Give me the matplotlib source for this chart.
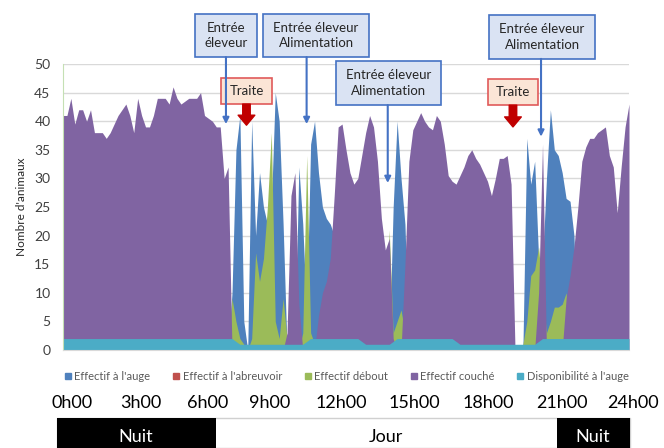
import numpy as np
import matplotlib
matplotlib.use('Agg')
import matplotlib.pyplot as plt
from matplotlib.patches import Rectangle
from matplotlib.lines import Line2D

plt.rcParams['font.family'] = ['Lato', 'DejaVu Sans']

# pas de 10 minutes sur 24 h
heures = np.linspace(0, 24, 145)

# une ligne = 2 heures (12 pas de 10 min)
auge = [
    0, 0, 0, 0, 0, 0, 0, 0, 0, 0, 0, 0,
    0, 0, 0, 0, 0, 0, 0, 0, 0, 0, 0, 0,
    0, 0, 0, 0, 0, 0, 0, 0, 0, 0, 0, 0,
    0, 0, 0, 0, 0, 0, 0, 10, 35, 41, 5, 0,
    40, 20, 31, 25, 22, 25, 45, 40, 22, 0, 0, 0,
    32, 22, 6, 36, 40, 31, 25, 23, 22, 20, 0, 0,
    0, 0, 0, 0, 0, 0, 0, 0, 0, 0, 0, 0,
    25, 40, 30, 22, 0, 0, 0, 0, 0, 0, 0, 0,
    0, 0, 0, 0, 0, 0, 0, 0, 0, 0, 0, 0,
    0, 0, 0, 0, 0, 0, 0, 0, 0, 0, 37, 29,
    33, 16, 15, 30, 42, 35, 34, 31, 26.5, 26, 20, 0,
    0, 0, 0, 0, 0, 0, 0, 0, 0, 0, 0, 0,
    0]

abreuvoir = [
    0, 0, 0, 0, 0, 0, 0, 0, 0, 0, 0, 0,
    0, 0, 0, 0, 0, 0, 0, 0, 0, 0, 0, 0,
    0, 0, 0, 0, 0, 0, 0, 0, 0, 0, 0, 0,
    0, 0, 0, 0, 0, 0, 0, 0, 0, 0, 0, 0,
    0, 0, 0, 0, 0, 0, 0, 0, 0, 0, 0, 0,
    0, 0, 0, 0, 0, 0, 0, 0, 0, 0, 0, 0,
    0, 0, 0, 0, 0, 0, 0, 0, 0, 0, 0, 0,
    0, 0, 0, 0, 0, 0, 0, 0, 0, 0, 0, 0,
    0, 0, 0, 0, 0, 0, 0, 0, 0, 0, 0, 0,
    0, 0, 0, 0, 0, 0, 0, 0, 0, 0, 0, 0,
    0, 0, 0, 0, 0, 0, 0, 0, 0, 0, 0, 0,
    0, 0, 0, 0, 0, 0, 0, 0, 0, 0, 0, 0,
    0]

debout = [
    0, 0, 0, 0, 0, 0, 0, 0, 0, 0, 0, 0,
    0, 0, 0, 0, 0, 0, 0, 0, 0, 0, 0, 0,
    0, 0, 0, 0, 0, 0, 0, 0, 0, 0, 0, 0,
    0, 0, 0, 0, 0, 0, 0, 9, 5, 2, 1, 0,
    2, 17, 12, 16, 25, 38, 5, 2, 9, 2, 0, 0,
    0, 3, 34, 3, 1, 0, 0, 0, 0, 0, 0, 0,
    0, 0, 0, 0, 0, 0, 0, 0, 0, 0, 0, 21,
    3, 5, 7, 3, 0, 0, 0, 0, 0, 0, 0, 0,
    0, 0, 0, 0, 0, 0, 0, 0, 0, 0, 0, 0,
    0, 0, 0, 0, 0, 0, 0, 0, 0, 1, 5, 13,
    14, 18, 10, 3, 5, 7.5, 7.5, 8, 10, 0, 0, 0,
    0, 0, 0, 0, 0, 0, 0, 0, 0, 0, 0, 0,
    0]

couche = [
    41, 41, 44, 39.5, 42, 42, 40, 42, 38, 38, 38, 37,
    38, 39.5, 41, 42, 43, 41, 38, 44, 41, 39, 39, 41,
    44, 44, 44, 43, 46, 44, 43, 43.5, 44, 44, 44, 45,
    41, 40.5, 40, 39, 39, 30, 32, 0, 0, 0, 0, 0,
    0, 0, 0, 0, 0, 0, 0, 0, 0, 3, 27, 31,
    8, 0, 0, 0, 0, 6, 10, 12, 16, 27, 39, 39.5,
    35, 31, 29, 30, 34, 38, 41, 39, 33, 23, 17.5, 19.5,
    2, 0, 0, 15, 33, 38.5, 40, 41.5, 40, 39, 38.5, 41,
    40, 36, 30.5, 29.5, 29, 30.5, 32, 34, 35, 33.5, 32.5, 31,
    29.5, 27, 30, 33.5, 33.5, 34, 29, 0, 0, 0, 0, 0,
    0, 10, 36, 0, 0, 0, 0, 0, 9, 13, 18, 25,
    33, 35.5, 37, 37, 38, 38.5, 39, 34, 32, 24, 32, 39,
    43]

dispo = [
    2, 2, 2, 2, 2, 2, 2, 2, 2, 2, 2, 2,
    2, 2, 2, 2, 2, 2, 2, 2, 2, 2, 2, 2,
    2, 2, 2, 2, 2, 2, 2, 2, 2, 2, 2, 2,
    2, 2, 2, 2, 2, 2, 2, 2, 1.5, 1, 1, 1,
    1, 1, 1, 1, 1, 1, 1, 1, 1, 1, 1, 1,
    1, 1, 1.5, 2, 2, 2, 2, 2, 2, 2, 2, 2,
    2, 2, 2, 2, 1.5, 1, 1, 1, 1, 1, 1, 1,
    1.5, 2, 2, 2, 2, 2, 2, 2, 2, 2, 2, 2,
    2, 2, 2, 2, 1.5, 1, 1, 1, 1, 1, 1, 1,
    1, 1, 1, 1, 1, 1, 1, 1, 1, 1, 1, 1,
    1, 1.5, 2, 2, 2, 2, 2, 2, 2, 2, 2, 2,
    2, 2, 2, 2, 2, 2, 2, 2, 2, 2, 2, 2,
    2]

series = ["Effectif à l'auge", "Effectif à l'abreuvoir", "Effectif débout",
          "Effectif couché", "Disponibilité à l'auge"]
couleurs = ['#4f81bd', '#c0504d', '#9bbb59', '#8064a2', '#4bacc6']

heures_lab = ['0h00', '3h00', '6h00', '9h00', '12h00', '15h00', '18h00', '21h00', '24h00']

fig = plt.figure(figsize=(6.64, 4.48), dpi=100)
ax = fig.add_axes([63 / 664, 1 - 350 / 448, 566 / 664, 286 / 448])

for vals, col in zip([auge, abreuvoir, debout, couche, dispo], couleurs):
    ax.fill_between(heures, 0, vals, color=col, lw=0)

ax.set_xlim(0, 24)
ax.set_ylim(0, 50)
ax.set_yticks(range(0, 55, 5))
ax.set_xticks([])
ax.yaxis.grid(True, color='#d9d9d9', lw=1)
ax.set_axisbelow(True)
for s in ['top', 'right']:
    ax.spines[s].set_visible(False)
ax.spines['left'].set_color('#c5e0b4')
ax.spines['bottom'].set_color('#d9d9d9')
ax.tick_params(axis='y', length=0, pad=9, labelsize=10, labelcolor='#404040')

fig.text(22 / 664, 1 - 207 / 448, "Nombre d'animaux", rotation=90,
         ha='center', va='center', fontsize=8.5, color='#262626')

# annotations (coordonnées en heures / effectif)
def boite(x0, x1, y0, y1, txt, fc, ec):
    ax.add_patch(Rectangle((x0, y0), x1 - x0, y1 - y0, facecolor=fc, edgecolor=ec,
                           lw=1.2, clip_on=False, zorder=5))
    ax.text((x0 + x1) / 2, (y0 + y1) / 2, txt, ha='center', va='center',
            fontsize=9.5, color='#262626', linespacing=1.35, zorder=6, clip_on=False)

def fleche_bleue(x, y0, y1):
    ax.annotate('', xy=(x, y1), xytext=(x, y0), annotation_clip=False,
                arrowprops=dict(arrowstyle='-|>', color='#4472c4', lw=1.5,
                                mutation_scale=9, shrinkA=0, shrinkB=0), zorder=6)

def fleche_rouge(x, y0, y1):
    ax.annotate('', xy=(x, y1), xytext=(x, y0), annotation_clip=False,
                arrowprops=dict(arrowstyle='simple,head_length=0.6,head_width=1.0,tail_width=0.45',
                                color='#c00000', mutation_scale=12, shrinkA=0, shrinkB=0), zorder=6)

bleu_fc, bleu_ec = '#dae3f3', '#4472c4'
rose_fc, rose_ec = '#fbe5d6', '#e05a5a'

boite(5.60, 8.23, 51.2, 58.7, 'Entrée\néleveur', bleu_fc, bleu_ec)
fleche_bleue(6.91, 51.2, 39.5)
boite(8.48, 12.98, 51.2, 58.7, 'Entrée éleveur\nAlimentation', bleu_fc, bleu_ec)
fleche_bleue(10.33, 51.2, 39.5)
boite(11.58, 16.03, 42.8, 50.5, 'Entrée éleveur\nAlimentation', bleu_fc, bleu_ec)
fleche_bleue(13.77, 42.8, 29.2)
boite(18.07, 22.56, 50.9, 58.6, 'Entrée éleveur\nAlimentation', bleu_fc, bleu_ec)
fleche_bleue(20.27, 50.9, 37.3)

boite(6.70, 8.86, 43.0, 47.6, 'Traite', rose_fc, rose_ec)
fleche_rouge(7.78, 43.0, 39.3)
boite(18.02, 20.14, 42.8, 47.4, 'Traite', rose_fc, rose_ec)
fleche_rouge(19.08, 42.8, 39.0)

# légende
poignees = [Line2D([], [], marker='s', ls='', color=c, markersize=5) for c in couleurs]
fig.legend(poignees, series, loc='center', bbox_to_anchor=(0.522, 1 - 376 / 448), ncol=5,
           frameon=False, fontsize=8, handlelength=0.6, handletextpad=0.3,
           columnspacing=2.0, labelcolor='#595959')

# heures
for lab, px in zip(heures_lab, [72, 141, 208, 270, 341, 414, 488, 562, 633]):
    fig.text(px / 664, 1 - 403 / 448, lab, ha='center', va='center', fontsize=13, color='black')

# bandeau nuit / jour
fig.patches.append(Rectangle((57 / 664, 0), (630 - 57) / 664, 30 / 448, transform=fig.transFigure,
                             facecolor='white', edgecolor='#d0d0d0', lw=1))
fig.patches.append(Rectangle((57 / 664, 0), (216 - 57) / 664, 30 / 448, transform=fig.transFigure,
                             facecolor='black', edgecolor='black', lw=0))
fig.patches.append(Rectangle((557 / 664, 0), (630 - 557) / 664, 30 / 448, transform=fig.transFigure,
                             facecolor='black', edgecolor='black', lw=0))
fig.text(136 / 664, 1 - 437 / 448, 'Nuit', ha='center', va='center', fontsize=13, color='white')
fig.text(386 / 664, 1 - 437 / 448, 'Jour', ha='center', va='center', fontsize=13, color='black')
fig.text(593 / 664, 1 - 437 / 448, 'Nuit', ha='center', va='center', fontsize=13, color='white')

fig.savefig('out.png', dpi=100)
